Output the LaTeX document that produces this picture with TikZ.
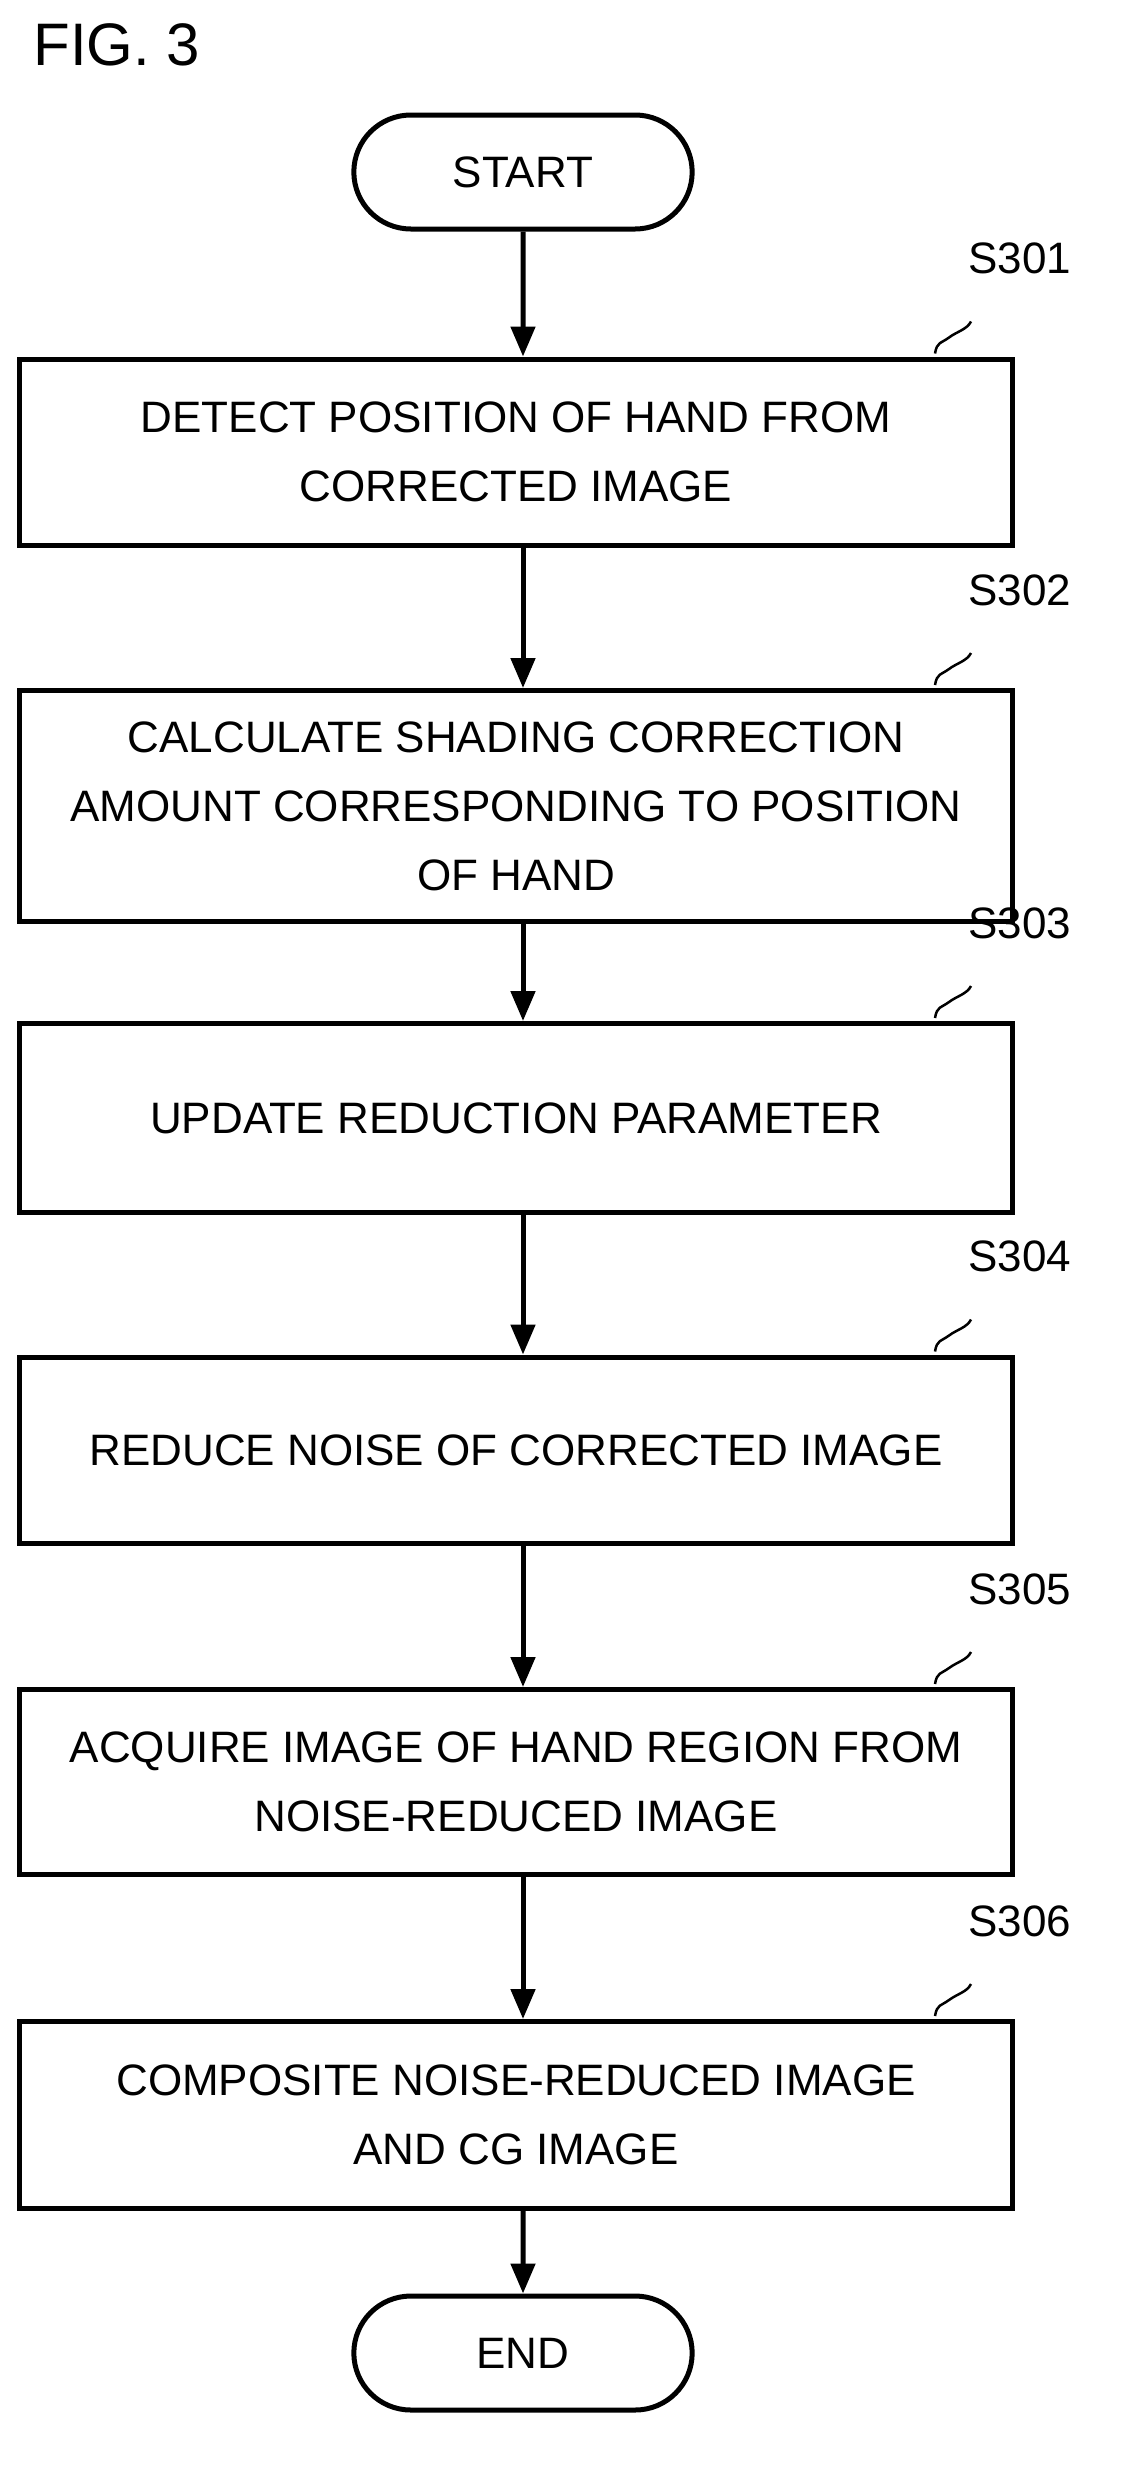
\documentclass[tikz,border=0pt]{standalone}
\usepackage{fontspec}
\setmainfont{Liberation Sans}
\usetikzlibrary{arrows.meta,shapes.misc}

\tikzset{
  procbox/.style={draw,line width=5pt,minimum width=993pt,align=center,
    font=\fontsize{44}{69}\selectfont,inner sep=0pt},
  term/.style={draw,line width=5pt,rounded rectangle,minimum width=345pt,
    minimum height=114pt,font=\fontsize{44}{69}\selectfont},
  flow/.style={line width=5pt,-{Triangle[length=30pt,width=24pt]}},
  tag/.style={font=\fontsize{44}{55}\selectfont,anchor=west}
}
\newcommand{\steptag}[2]{%
  \draw[line width=2.5pt] ([xshift=-80pt,yshift=3pt]#1.north east) .. controls +(2,-12) and +(-8,6) .. ++(14,-16)
    .. controls +(8,-6) and +(-4,8) .. ++(22,-16);
  \node[tag] at ([xshift=-50pt,yshift=98pt]#1.north east) {#2};
}

\begin{document}
\begin{tikzpicture}[x=1pt,y=-1pt]
  \useasboundingbox (0,0) rectangle (1126,2474);
  \node[anchor=north west,font=\fontsize{60}{60}\selectfont] (fig) at (30,20) {FIG. 3};

  \node[term] (start) at (523,172) {START};
  \node[procbox,minimum height=186pt] (s1) at (516,452) {DETECT POSITION OF HAND FROM\\CORRECTED IMAGE};
  \node[procbox,minimum height=231pt] (s2) at (516,806) {CALCULATE SHADING CORRECTION\\AMOUNT CORRESPONDING TO POSITION\\OF HAND};
  \node[procbox,minimum height=189pt] (s3) at (516,1118) {UPDATE REDUCTION PARAMETER};
  \node[procbox,minimum height=186pt] (s4) at (516,1450) {REDUCE NOISE OF CORRECTED IMAGE};
  \node[procbox,minimum height=185pt] (s5) at (516,1782) {ACQUIRE IMAGE OF HAND REGION FROM\\NOISE-REDUCED IMAGE};
  \node[procbox,minimum height=187pt] (s6) at (516,2115) {COMPOSITE NOISE-REDUCED IMAGE\\AND CG IMAGE};
  \node[term] (end) at (523,2353) {END};

  \draw[flow] (start) -- (start|-s1.north);
  \draw[flow] (start|-s1.south) -- (start|-s2.north);
  \draw[flow] (start|-s2.south) -- (start|-s3.north);
  \draw[flow] (start|-s3.south) -- (start|-s4.north);
  \draw[flow] (start|-s4.south) -- (start|-s5.north);
  \draw[flow] (start|-s5.south) -- (start|-s6.north);
  \draw[flow] (start|-s6.south) -- (end);

  % step numbers
  \steptag{s1}{S301}
  \steptag{s2}{S302}
  \steptag{s3}{S303}
  \steptag{s4}{S304}
  \steptag{s5}{S305}
  \steptag{s6}{S306}
\end{tikzpicture}
\end{document}
